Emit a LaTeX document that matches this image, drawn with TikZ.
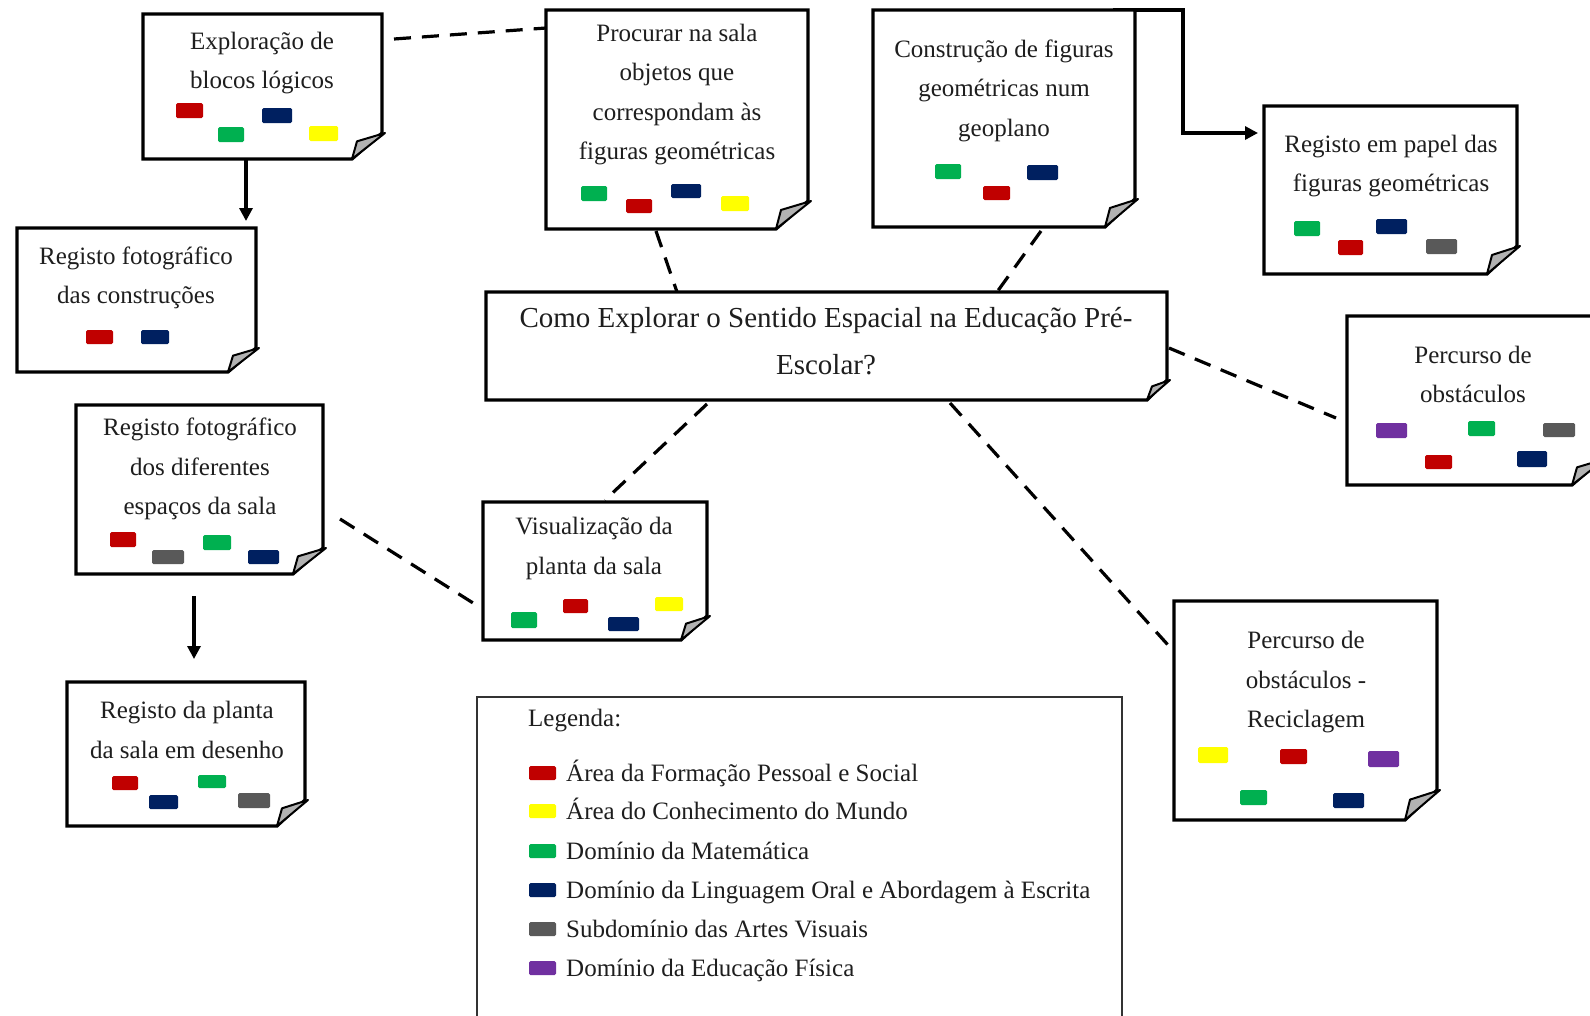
\documentclass[tikz,border=0pt]{standalone}
\usepackage{fontspec}
\setmainfont{Liberation Serif}
\usetikzlibrary{calc,fit,arrows.meta}

\definecolor{cRed}{HTML}{C00000}
\definecolor{cYellow}{HTML}{FFFF00}
\definecolor{cGreen}{HTML}{00B050}
\definecolor{cNavy}{HTML}{002060}
\definecolor{cGrey}{HTML}{595959}
\definecolor{cPurple}{HTML}{7030A0}
\definecolor{ink}{HTML}{1E1E1E}

\tikzset{
  area/.style={inner sep=0pt, outer sep=0pt},
  noteframe/.style={draw=black, line width=3.2pt, line join=miter, fill=white},
  foldpart/.style={draw=black, line width=2pt, fill=black!30, line join=round},
  boxtext/.style={align=center, inner sep=0pt, text=ink, font=\fontsize{25}{39.5}\selectfont},
  titletext/.style={align=center, inner sep=0pt, text=ink, font=\fontsize{29}{47}\selectfont},
  legtext/.style={anchor=base west, inner sep=0pt, text=ink, font=\fontsize{25}{30}\selectfont},
  dashlink/.style={line width=3.2pt, dash pattern=on 17pt off 11pt},
  arrowlink/.style={line width=3.2pt, -{Triangle[length=13pt,width=13pt]}},
  chip/.style={rounded corners=1.5pt},
}

% folded-corner note drawn around a named area
\newcommand{\notefold}[3]{% name, fold width, fold height
  \draw[noteframe] (#1.south west) -- (#1.north west) -- (#1.north east)
    -- ([yshift=#3]#1.south east) -- ([xshift=-#2]#1.south east) -- cycle;
  \filldraw[foldpart] ([xshift=-#2]#1.south east)
    -- ([xshift=-#2+5pt,yshift=0.68*#3]#1.south east)
    -- ([xshift=3pt,yshift=#3]#1.south east) -- cycle;
}
% coloured area marker, given by corners
\newcommand{\areachip}[5]{\fill[chip,#1] (#2,#3) rectangle (#4,#5);}

\begin{document}
\begin{tikzpicture}[x=1pt,y=-1pt]
\useasboundingbox[fill=white] (0,0) rectangle (1590,1015);

% ---------- note areas ----------
\node[area, fit={(143,14) (382,159)}]   (n1) {};
\node[area, fit={(546,10) (808,229)}]   (n2) {};
\node[area, fit={(873,10) (1135,227)}]  (n3) {};
\node[area, fit={(1264,106) (1517,274)}] (n4) {};
\node[area, fit={(17,228) (256,372)}]   (n5) {};
\node[area, fit={(486,292) (1167,400)}] (n6) {};
\node[area, fit={(1347,316) (1602,485)}] (n7) {};
\node[area, fit={(76,405) (323,574)}]   (n8) {};
\node[area, fit={(483,502) (707,640)}]  (n9) {};
\node[area, fit={(67,682) (305,826)}]   (n10) {};
\node[area, fit={(1174,601) (1437,820)}] (n11) {};
\node[area, fit={(477,697) (1122,1022)}] (leg) {};

% ---------- connectors ----------
\draw[dashlink] ($(n1.north east)+(12,25)$) -- ($(n2.north west)+(0,18)$);
\draw[arrowlink] ($(n1.south west)+(103,0)$) -- ($(n5.north west)+(229,-7)$);
\draw[arrowlink]
  ($(n3.north east)+(-22,0)$) -| ($(n4.north west)+(-81,27)$) -- ($(n4.north west)+(-6,27)$);
\draw[dashlink] ($(n2.south west)+(110,2)$) -- ($(n6.north west)+(191,0)$);
\draw[dashlink] ($(n3.south west)+(168,4)$) -- ($(n6.north west)+(511,0)$);
\draw[dashlink] ($(n6.north east)+(2,56)$) -- ($(n7.north west)+(-11,102)$);
\draw[dashlink] ($(n6.south west)+(221,4)$) -- ($(n9.north west)+(122,-2)$);
\draw[dashlink] ($(n6.south west)+(464,3)$) -- ($(n11.north west)+(-6,44)$);
\draw[dashlink] ($(n8.north east)+(17,114)$) -- ($(n9.north west)+(-2,106)$);
\draw[arrowlink] ($(n8.south west)+(118,22)$) -- ($(n10.north west)+(127,-23)$);

% ---------- notes ----------
\notefold{n1}{30pt}{26pt}
\notefold{n2}{32pt}{28pt}
\notefold{n3}{30pt}{28pt}
\notefold{n4}{30pt}{28pt}
\notefold{n5}{28pt}{24pt}
\notefold{n6}{20pt}{20pt}
\notefold{n7}{30pt}{26pt}
\notefold{n8}{30pt}{26pt}
\notefold{n9}{26pt}{24pt}
\notefold{n10}{28pt}{26pt}
\notefold{n11}{32pt}{30pt}

% legend frame (runs off the bottom edge)
\draw[line width=1.5pt, draw=black!80] (leg.south west) -- (leg.north west) -- (leg.north east) -- (leg.south east);

% ---------- texts ----------
\node[boxtext] (t1) at (262,63) {Exploração de\\blocos lógicos};
\node[boxtext] (t2) at (677,94.5) {Procurar na sala\\objetos que\\correspondam às\\figuras geométricas};
\node[boxtext] (t3) at (1004,90.5) {Construção de figuras\\geométricas num\\geoplano};
\node[boxtext] (t4) at (1391,166) {Registo em papel das\\figuras geométricas};
\node[boxtext] (t5) at (136,278) {Registo fotográfico\\das construções};
\node[titletext] (t6) at (826,341) {Como Explorar o Sentido Espacial na Educação Pré-\\Escolar?};
\node[boxtext] (t7) at (1473,374.5) {Percurso de\\obstáculos};
\node[boxtext] (t8) at (200,469) {Registo fotográfico\\dos diferentes\\espaços da sala};
\node[boxtext] (t9) at (594,548.5) {Visualização da\\planta da sala};
\node[boxtext] (t10) at (187,730) {Registo da planta\\da sala em desenho};
\node[boxtext] (t11) at (1306,682.5) {Percurso de\\obstáculos -\\Reciclagem};

% ---------- markers ----------
\areachip{cRed}{176}{103}{203}{118}
\areachip{cGreen}{218}{127}{244}{142}
\areachip{cNavy}{262}{108}{292}{123}
\areachip{cYellow}{309}{126}{338}{141}

\areachip{cGreen}{581}{186}{607}{201}
\areachip{cRed}{626}{199}{652}{213}
\areachip{cNavy}{671}{184}{701}{198}
\areachip{cYellow}{721}{196}{749}{211}

\areachip{cGreen}{935}{164}{961}{179}
\areachip{cRed}{983}{186}{1010}{200}
\areachip{cNavy}{1027}{165}{1058}{180}

\areachip{cGreen}{1294}{221}{1320}{236}
\areachip{cRed}{1338}{240}{1363}{255}
\areachip{cNavy}{1376}{219}{1407}{234}
\areachip{cGrey}{1426}{239}{1457}{254}

\areachip{cRed}{86}{330}{113}{344}
\areachip{cNavy}{141}{330}{169}{344}

\areachip{cPurple}{1376}{423}{1407}{438}
\areachip{cGreen}{1468}{421}{1495}{436}
\areachip{cGrey}{1543}{423}{1575}{437}
\areachip{cRed}{1425}{455}{1452}{469}
\areachip{cNavy}{1517}{451}{1547}{467}

\areachip{cRed}{110}{532}{136}{547}
\areachip{cGrey}{152}{550}{184}{564}
\areachip{cGreen}{203}{535}{231}{550}
\areachip{cNavy}{248}{550}{279}{564}

\areachip{cGreen}{511}{612}{537}{628}
\areachip{cRed}{563}{599}{588}{613}
\areachip{cNavy}{608}{617}{639}{631}
\areachip{cYellow}{655}{597}{683}{611}

\areachip{cRed}{112}{776}{138}{790}
\areachip{cNavy}{149}{795}{178}{809}
\areachip{cGreen}{198}{775}{226}{788}
\areachip{cGrey}{238}{793}{270}{808}

\areachip{cYellow}{1198}{747}{1228}{763}
\areachip{cRed}{1280}{749}{1307}{764}
\areachip{cPurple}{1368}{751}{1399}{767}
\areachip{cGreen}{1240}{790}{1267}{805}
\areachip{cNavy}{1333}{793}{1364}{808}

% ---------- legend ----------
\node[legtext] (lg) at (528,726) {Legenda:};
\foreach \c/\y/\txt [count=\i] in {
  cRed/773/{Área da Formação Pessoal e Social},
  cYellow/811/{Área do Conhecimento do Mundo},
  cGreen/851/{Domínio da Matemática},
  cNavy/890/{Domínio da Linguagem Oral e Abordagem à Escrita},
  cGrey/929/{Subdomínio das Artes Visuais},
  cPurple/968/{Domínio da Educação Física}}{
  \fill[chip,\c] (529,\y-7) rectangle (556,\y+7);
  \node[legtext] (li\i) at (566,\y+8) {\txt};
}
\end{tikzpicture}
\end{document}
